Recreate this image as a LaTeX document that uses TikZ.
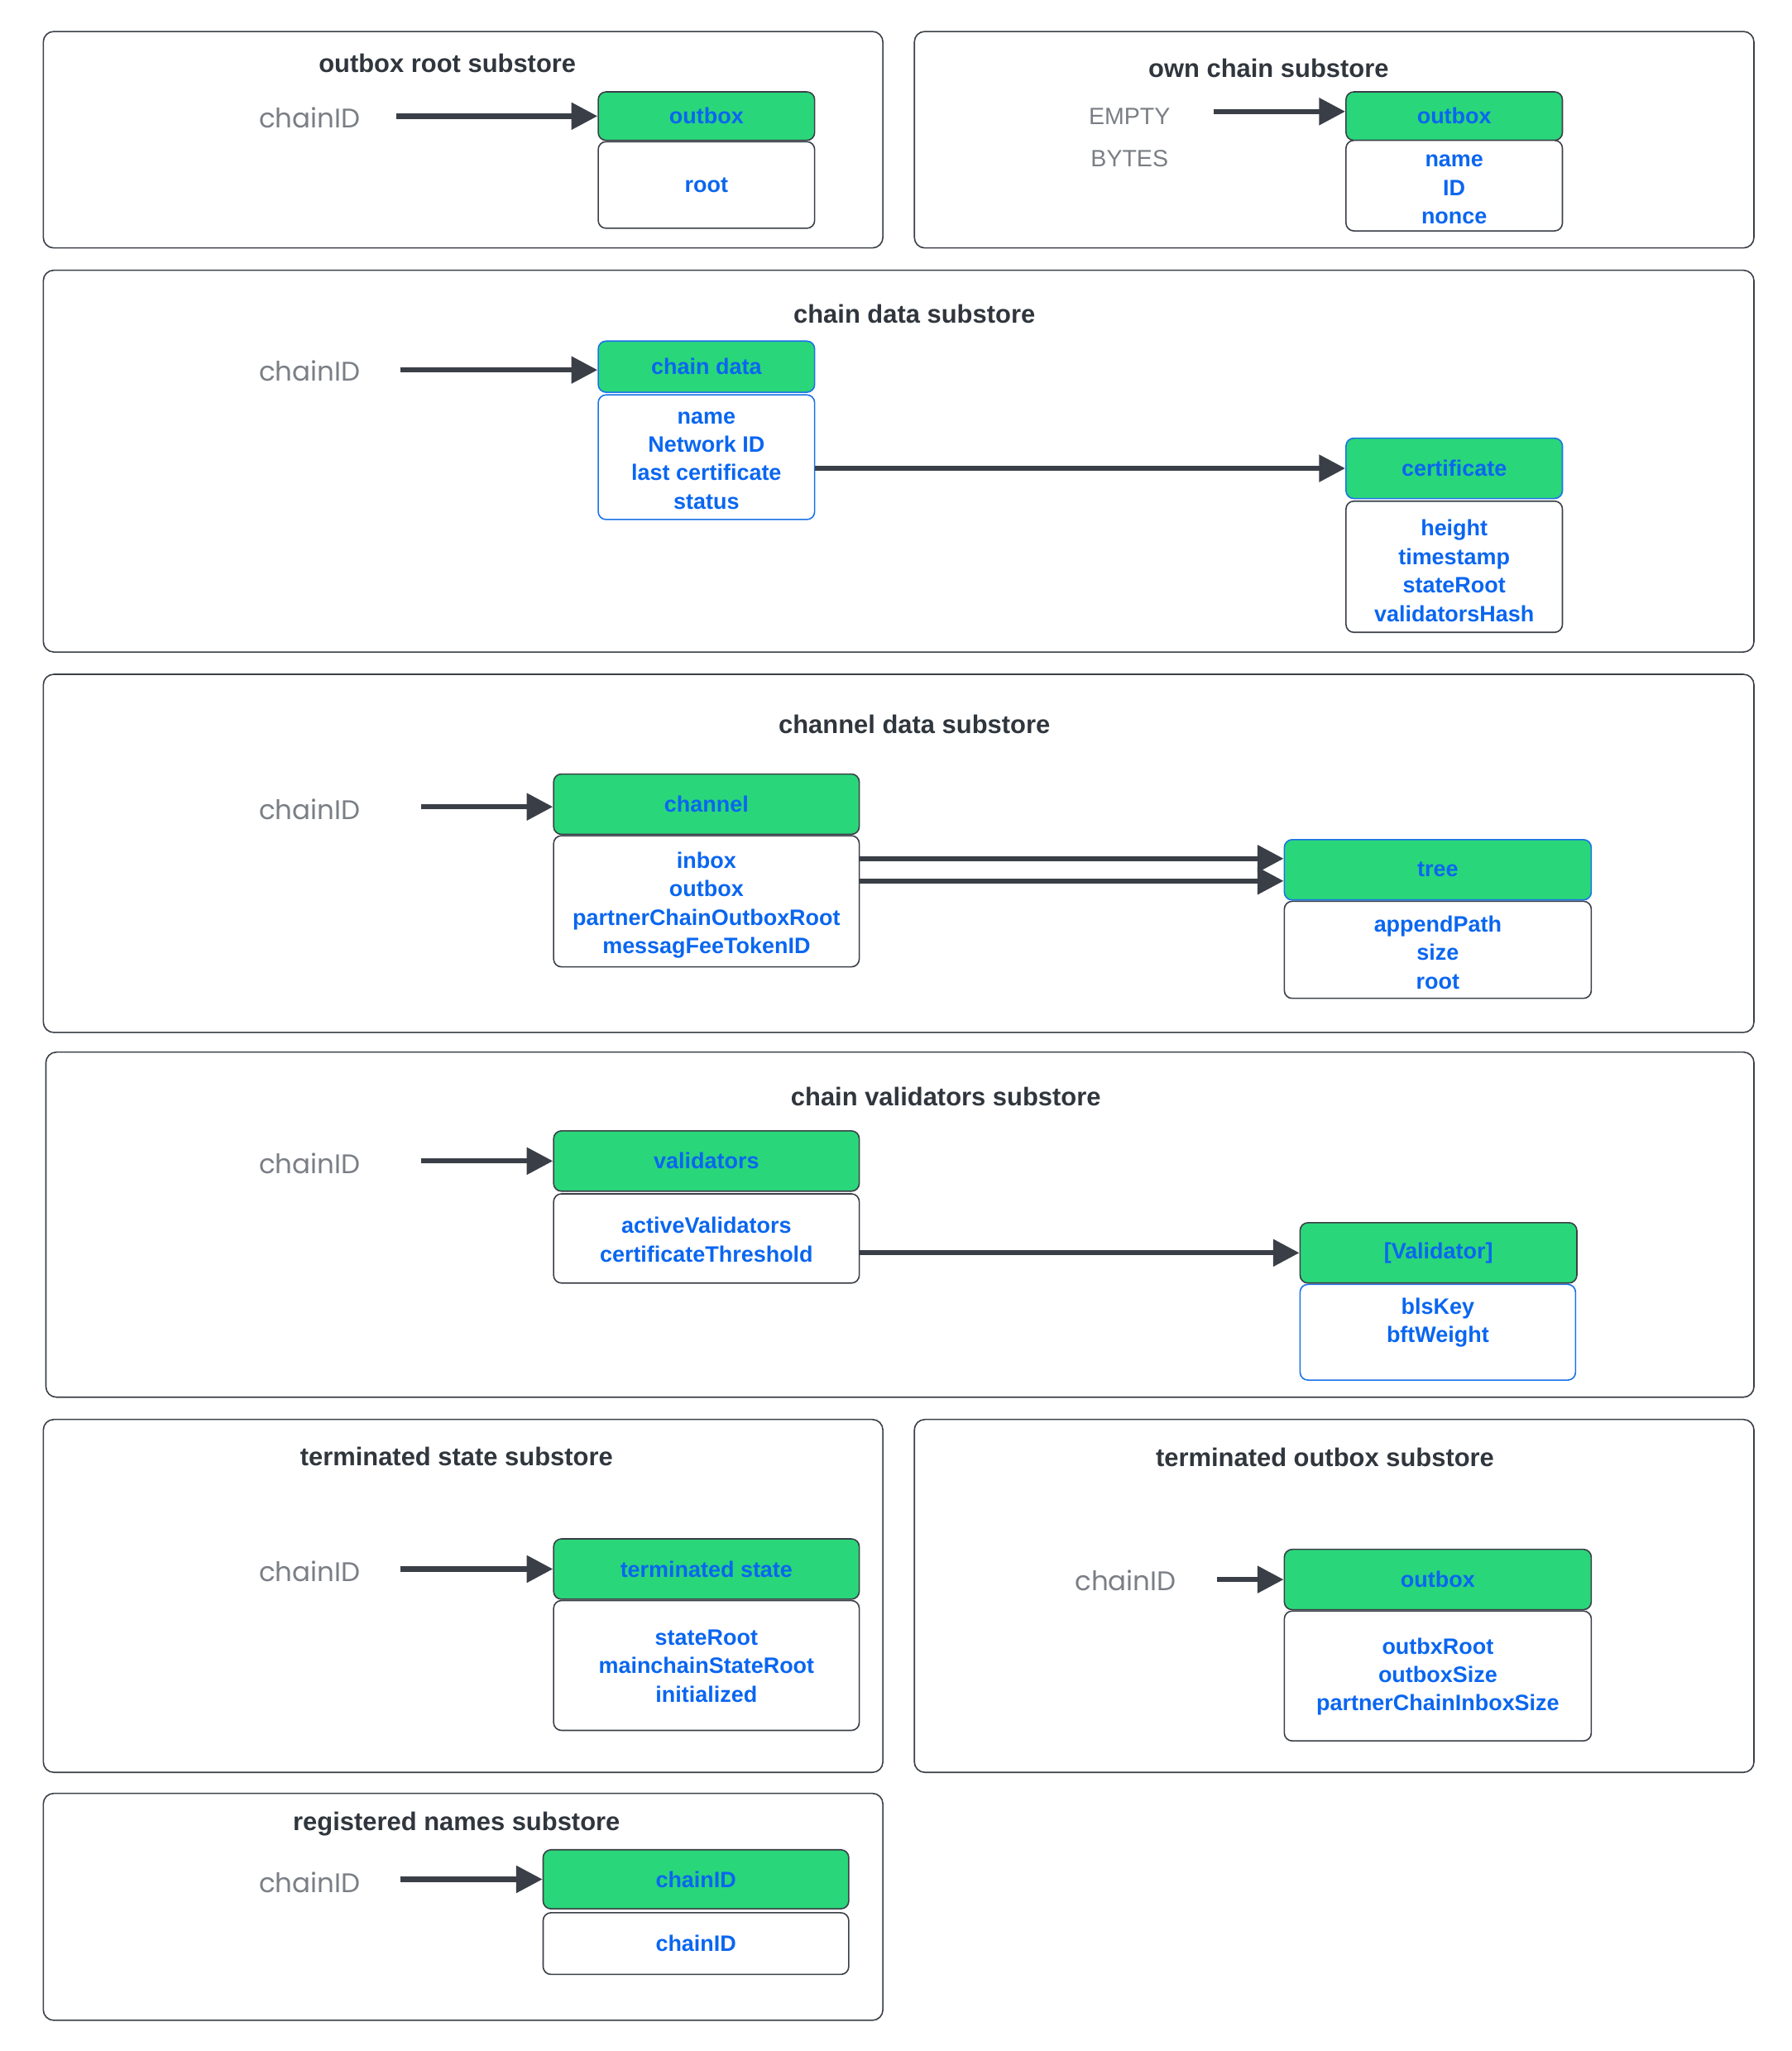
\documentclass[tikz,border=0pt]{standalone}
\usepackage{fontspec}
\setmainfont{Liberation Sans}
\newfontfamily\popfont{Poppins}
\usetikzlibrary{arrows.meta}
\definecolor{linec}{HTML}{3A3F47}
\definecolor{grn}{HTML}{2AD67A}
\definecolor{blu}{HTML}{0A66F0}
\definecolor{bluline}{HTML}{1A73E8}
\definecolor{ttlc}{HTML}{30363D}
\definecolor{keyc}{HTML}{7A7E85}
\tikzset{
  sz/.style 2 args={minimum width=#1pt, minimum height=#2pt},
  outer/.style={draw=linec, line width=1pt, rounded corners=8pt, inner sep=0pt},
  hdr/.style={draw=linec, fill=grn, rounded corners=6pt, line width=1pt, text=blu, inner sep=0pt, align=center,
    font=\bfseries\fontsize{17}{21.7}\selectfont},
  bdy/.style={draw=linec, fill=white, rounded corners=6pt, line width=1pt, text=blu, inner sep=0pt, align=center,
    font=\bfseries\fontsize{17}{21.7}\selectfont},
  fld/.style={text=blu, inner sep=0pt, align=center, font=\bfseries\fontsize{17}{21.7}\selectfont},
  bluedge/.style={draw=bluline},
  ttl/.style={text=ttlc, inner sep=0pt, font=\bfseries\fontsize{19.5}{23}\selectfont},
  keylbl/.style={text=keyc, inner sep=0pt, font=\popfont\fontsize{20.5}{24}\selectfont},
  emptylbl/.style={text=keyc, inner sep=0pt, font=\fontsize{18}{22}\selectfont},
  arr/.style={draw=linec, line width=4pt, -{Triangle[length=20pt,width=20pt]}},
}
\begin{document}
\begin{tikzpicture}[x=1pt,y=-1pt]
\useasboundingbox[fill=white] (0,0) rectangle (1366,1563.4);

% outer boxes
\node[outer, sz={640}{165}]  (b1) at (353,106.5) {};
\node[outer, sz={640}{165}]  (b2) at (1017,106.5) {};
\node[outer, sz={1304}{291}] (b3) at (685,351.5) {};
\node[outer, sz={1304}{273}] (b4) at (685,650.5) {};
\node[outer, sz={1302}{263}] (b5) at (686,933.5) {};
\node[outer, sz={640}{269}]  (b6) at (353,1216.5) {};
\node[outer, sz={640}{269}]  (b7) at (1017,1216.5) {};
\node[outer, sz={640}{173}]  (b8) at (353,1453.5) {};

% titles
\node[ttl] (t1) at (341,48) {outbox root substore};
\node[ttl] (t2) at (967,52) {own chain substore};
\node[ttl] (t3) at (697,239) {chain data substore};
\node[ttl] (t4) at (697,552) {channel data substore};
\node[ttl] (t5) at (721,836) {chain validators substore};
\node[ttl] (t6) at (348,1110) {terminated state substore};
\node[ttl] (t7) at (1010,1111) {terminated outbox substore};
\node[ttl] (t8) at (348,1390) {registered names substore};

% 1 outbox root
\node[keylbl] (k1) at (236,90) {chainID};
\node[hdr, sz={165}{37}] (h1) at (538.5,88.5) {outbox};
\node[bdy, sz={165}{66}] (d1) at (538.5,141) {root};
\coordinate (s1) at (302,88.5);
\draw[arr] (s1) -- (h1.west);

% 2 own chain
\node[emptylbl] (k2a) at (861,89) {EMPTY};
\node[emptylbl] (k2b) at (861,121) {BYTES};
\node[hdr, sz={165}{37}] (h2) at (1108.5,88.5) {outbox};
\node[bdy, sz={165}{69}] (d2) at (1108.5,141.5) {};
\node[fld] (f2) at (1108.5,144.5) {name\\ID\\nonce};
\coordinate (s2) at (925,85);
\draw[arr] (s2) -- (s2 -| h2.west);

% 3 chain data
\node[keylbl] (k3) at (236,283) {chainID};
\node[hdr, bluedge, sz={165}{39}] (h3) at (538.5,279.5) {chain data};
\node[bdy, bluedge, sz={165}{95}] (d3) at (538.5,348.5) {};
\node[fld] (f3) at (538.5,351) {name\\Network ID\\last certificate\\status};
\node[hdr, bluedge, sz={165}{46}] (h3b) at (1108.5,357) {certificate};
\node[bdy, sz={165}{100}] (d3b) at (1108.5,432) {};
\node[fld] (f3b) at (1108.5,435) {height\\timestamp\\stateRoot\\validatorsHash};
\coordinate (s3) at (305,282);
\draw[arr] (s3) -- (s3 -| h3.west);
\draw[arr] (d3.east |- h3b.west) -- (h3b.west);

% 4 channel data
\node[keylbl] (k4) at (236,617) {chainID};
\node[hdr, sz={233}{46}] (h4) at (538.5,613) {channel};
\node[bdy, sz={233}{100}] (d4) at (538.5,687) {};
\node[fld] (f4) at (538.5,690) {inbox\\outbox\\partnerChainOutboxRoot\\messagFeeTokenID};
\node[hdr, bluedge, sz={234}{46}] (h4b) at (1096,663) {tree};
\node[bdy, sz={234}{74}] (d4b) at (1096,724) {};
\node[fld] (f4b) at (1096,726) {appendPath\\size\\root};
\coordinate (s4) at (321,615);
\draw[arr] (s4) -- (s4 -| h4.west);
\draw[arr] ([yshift=-8.5pt]d4.east |- h4b.west) -- ([yshift=-8.5pt]h4b.west);
\draw[arr] ([yshift=8.5pt]d4.east |- h4b.west) -- ([yshift=8.5pt]h4b.west);

% 5 chain validators
\node[keylbl] (k5) at (236,887) {chainID};
\node[hdr, sz={233}{46}] (h5) at (538.5,885) {validators};
\node[bdy, sz={233}{68}] (d5) at (538.5,944) {};
\node[fld] (f5) at (538.5,945) {activeValidators\\certificateThreshold};
\node[bdy, bluedge, sz={210}{73}] (d5b) at (1096,1015.5) {};
\node[fld] (f5b) at (1096,1008) {blsKey\\bftWeight};
\node[hdr, sz={211}{46}] (h5b) at (1096.5,955) {[Validator]};
\coordinate (s5) at (321,885);
\draw[arr] (s5) -- (h5.west);
\draw[arr] (d5.east |- h5b.west) -- (h5b.west);

% 6 terminated state
\node[keylbl] (k6) at (236,1198) {chainID};
\node[hdr, sz={233}{46}] (h6) at (538.5,1196) {terminated state};
\node[bdy, sz={233}{99}] (d6) at (538.5,1269.5) {};
\node[fld] (f6) at (538.5,1270) {stateRoot\\mainchainStateRoot\\initialized};
\coordinate (s6) at (305,1196);
\draw[arr] (s6) -- (h6.west);

% 7 terminated outbox
\node[keylbl] (k7) at (858,1205) {chainID};
\node[hdr, sz={234}{46}] (h7) at (1096,1204) {outbox};
\node[bdy, sz={234}{99}] (d7) at (1096,1277.5) {};
\node[fld] (f7) at (1096,1278) {outbxRoot\\outboxSize\\partnerChainInboxSize};
\coordinate (s7) at (928,1204);
\draw[arr] (s7) -- (h7.west);

% 8 registered names
\node[keylbl] (k8) at (236,1435) {chainID};
\node[hdr, sz={233}{45}] (h8) at (530.5,1432.5) {chainID};
\node[bdy, sz={233}{47}] (d8) at (530.5,1481.5) {chainID};
\coordinate (s8) at (305,1432.5);
\draw[arr] (s8) -- (h8.west);
\end{tikzpicture}
\end{document}
